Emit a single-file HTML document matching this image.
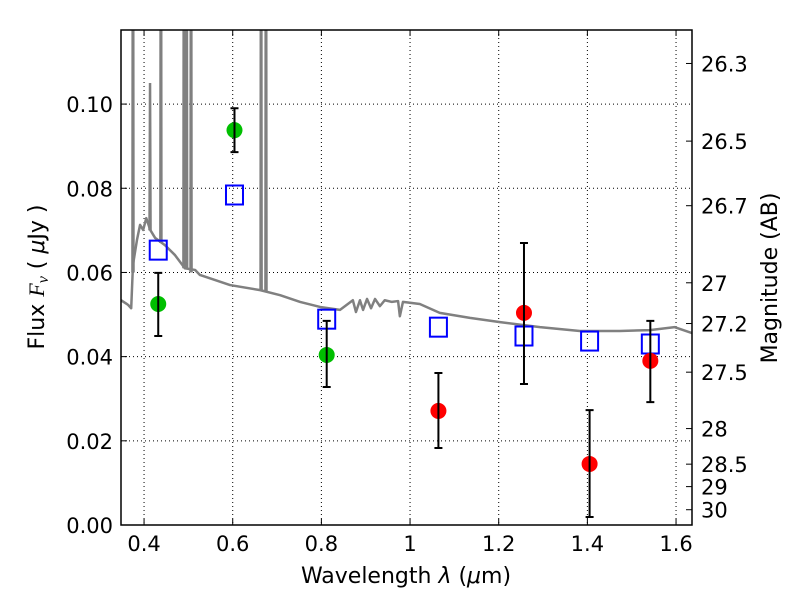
<!DOCTYPE html>
<html><head><meta charset="utf-8"><style>
body{margin:0;background:#fff;}
svg text{font-family:"DejaVu Sans","Liberation Sans",sans-serif;}
</style></head><body>
<svg id="chart" width="800" height="600" viewBox="0 0 800 600">
<rect width="800" height="600" fill="#fff"/>
<g id="grid"></g>
<g id="plot"></g>
<g id="axes"></g>
<text x="406" y="583" font-size="22" text-anchor="middle">Wavelength  <tspan font-style="italic">λ</tspan> (<tspan font-style="italic">μ</tspan>m)</text>
<text transform="translate(44,277) rotate(-90)" font-size="22" text-anchor="middle">Flux  <tspan font-style="italic" font-family="Liberation Serif">F<tspan font-size="16" dy="4">ν</tspan></tspan><tspan dy="-4">  ( </tspan><tspan font-style="italic">μ</tspan>Jy )</text>
<text transform="translate(777,278) rotate(-90)" font-size="22" text-anchor="middle">Magnitude (AB)</text>
</svg>
<script>
const xTicks=[0.4,0.6,0.8,1.0,1.2,1.4,1.6];
const xTickLabels=["0.4","0.6","0.8","1","1.2","1.4","1.6"];
const yTicks=[0,0.02,0.04,0.06,0.08,0.10];
const yTickLabels=["0.00","0.02","0.04","0.06","0.08","0.10"];
const magTicks=[26.3,26.5,26.7,27,27.2,27.5,28,28.5,29,30];
const specWave=[0.348,0.364,0.371,0.375,0.384,0.391,0.398,0.405,0.414,0.425,0.447,0.470,0.492,0.515,0.526,0.594,0.662,0.707,0.752,0.797,0.842,0.871,0.878,0.887,0.894,0.903,0.912,0.921,0.932,0.943,0.959,0.973,0.977,0.984,1.022,1.067,1.135,1.203,1.293,1.383,1.473,1.541,1.597,1.636];
const specFlux=[0.0534,0.0523,0.0515,0.0618,0.0677,0.0713,0.0701,0.0729,0.0701,0.0682,0.0665,0.0641,0.0610,0.0606,0.0594,0.0570,0.0558,0.0546,0.0530,0.0518,0.0511,0.0534,0.0506,0.0534,0.0511,0.0537,0.0515,0.0537,0.0520,0.0534,0.0530,0.0532,0.0496,0.0530,0.0525,0.0504,0.0492,0.0482,0.0470,0.0461,0.0461,0.0463,0.0470,0.0456];
const lineWave=[0.375,0.4135,0.438,0.490,0.496,0.506,0.664,0.675];
const linePeak=[0.2,0.105,0.2,0.2,0.2,0.2,0.2,0.2];
const lineBase=[0.060,0.070,0.067,0.061,0.061,0.060,0.0557,0.0555];
const obsWave=[0.432,0.604,0.812,1.064,1.257,1.405,1.542];
const obsFlux=[0.0525,0.0938,0.0404,0.0271,0.0504,0.0145,0.0390];
const obsHi=[0.0599,0.0990,0.0485,0.0361,0.0670,0.0273,0.0485];
const obsLo=[0.0449,0.0886,0.0328,0.0183,0.0335,0.0019,0.0292];
const obsColor=["#00bf00","#00bf00","#00bf00","red","red","red","red"];
const modelFlux=[0.0653,0.0784,0.0489,0.0470,0.0449,0.0437,0.0430];

const L=121,R=692,T=30,B=525;
const xmin=0.348,xmax=1.636,ymin=0,ymax=0.1176;
const X=v=>L+(v-xmin)/(xmax-xmin)*(R-L);
const Y=v=>B-(v-ymin)/(ymax-ymin)*(B-T);
const NS="http://www.w3.org/2000/svg";
function mk(tag,attrs,parent){const e=document.createElementNS(NS,tag);for(const k in attrs)e.setAttribute(k,attrs[k]);parent.appendChild(e);return e;}
const grid=document.getElementById('grid'),plot=document.getElementById('plot'),axes=document.getElementById('axes');
mk('defs',{},plot).innerHTML='<clipPath id="clip"><rect x="121" y="30" width="571" height="495"/></clipPath>';
const pg=mk('g',{'clip-path':'url(#clip)'},plot);
xTicks.forEach((t,i)=>{
  const g=mk('line',{x1:X(t),x2:X(t),y1:T,y2:B,stroke:'#000','stroke-dasharray':'1,3','stroke-width':1},grid);
  
  
  mk('line',{x1:X(t),x2:X(t),y1:B,y2:B-6,stroke:'#000'},axes);
  mk('line',{x1:X(t),x2:X(t),y1:T,y2:T+6,stroke:'#000'},axes);
  const tx=mk('text',{x:X(t),y:B+26,'font-size':21,'text-anchor':'middle'},axes);tx.textContent=xTickLabels[i];
  
  
});
yTicks.forEach((t,i)=>{
  const g=mk('line',{x1:L,x2:R,y1:Y(t),y2:Y(t),stroke:'#000','stroke-dasharray':'1,3','stroke-width':1},grid);
  
  
  mk('line',{x1:L,x2:L+6,y1:Y(t),y2:Y(t),stroke:'#000'},axes);
  const tx=mk('text',{x:L-8,y:Y(t)+8,'font-size':21,'text-anchor':'end'},axes);tx.textContent=yTickLabels[i];
  
  
});
magTicks.forEach(m=>{
  const f=Math.pow(10,(23.9-m)/2.5);const y=Y(f);
  mk('line',{x1:R,x2:R-6,y1:y,y2:y,stroke:'#000'},axes);
  const tx=mk('text',{x:R+9,y:y+8,'font-size':21},axes);tx.textContent=String(m);
  
  
});
const sp=mk('polyline',{points:specWave.map((w,i)=>X(w)+','+Y(specFlux[i])).join(' '),fill:'none',stroke:'#808080','stroke-width':2.5,'stroke-linejoin':'round'},pg);


lineWave.forEach((w,i)=>{
  const p=mk('polyline',{points:`${X(w-0.0012)},${Y(lineBase[i])} ${X(w)},${Y(linePeak[i])} ${X(w+0.0012)},${Y(lineBase[i])}`,fill:'none',stroke:'#808080','stroke-width':2.5},pg);
  
  
});
obsWave.forEach((w,i)=>{
  const r=mk('rect',{x:X(w)-8.5,y:Y(modelFlux[i])-9.5,width:17,height:19,fill:'none',stroke:'#0000ff','stroke-width':2},pg);
  
  
});
obsWave.forEach((w,i)=>{
  const x=X(w);
  const c=mk('circle',{cx:x,cy:Y(obsFlux[i]),r:8,fill:obsColor[i]},pg);
  
  
  const e=mk('path',{d:`M${x},${Y(obsHi[i])}V${Y(obsLo[i])}M${x-4},${Y(obsHi[i])}H${x+4}M${x-4},${Y(obsLo[i])}H${x+4}`,stroke:'#000','stroke-width':2,fill:'none'},pg);
  
  
});
const fr=mk('rect',{x:L,y:T,width:R-L,height:B-T,fill:'none',stroke:'#000','stroke-width':1.5},axes);


</script>
</body></html>
